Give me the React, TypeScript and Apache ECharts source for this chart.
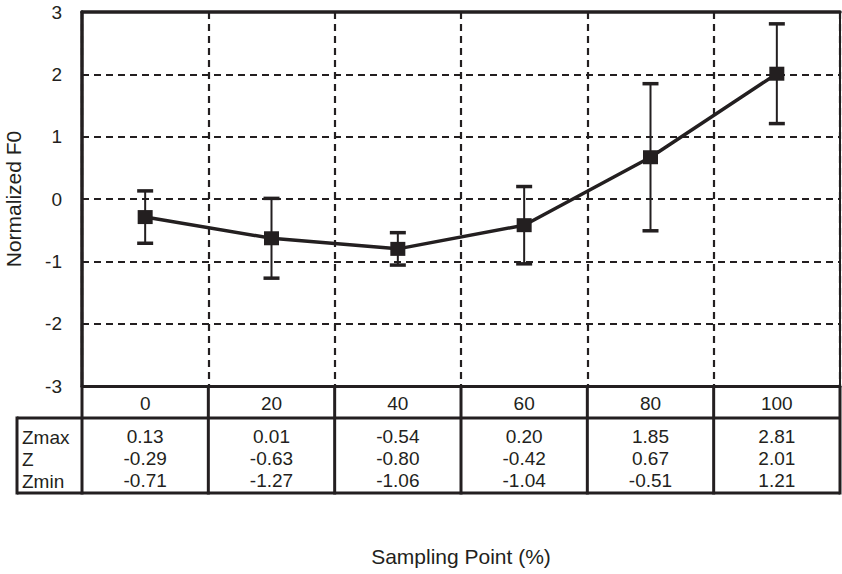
import React, { useEffect, useRef } from "react";
import * as echarts from "echarts";

const categories = ["0", "20", "40", "60", "80", "100"];
const zMax = [0.13, 0.01, -0.54, 0.2, 1.85, 2.81];
const zMean = [-0.29, -0.63, -0.8, -0.42, 0.67, 2.01];
const zMin = [-0.71, -1.27, -1.06, -1.04, -0.51, 1.21];
const rowLabels = ["Zmax", "Z", "Zmin"];
const rowValues = [zMax, zMean, zMin];
const yMin = -3;
const yMax = 3;
const yInterval = 1;

const INK = "#231f20";
const FONT = "Liberation Sans, Arial, Helvetica, sans-serif";

const W = 842;
const H = 574;
const GRID_LEFT = 82;
const GRID_RIGHT = 2;
const GRID_TOP = 12;
const GRID_BOTTOM = 188;
const HEADER_H = 32;
const ROW_H = 22;
const TABLE_BOTTOM = 493;
const LABEL_COL_LEFT = 17;
const TICK_FS = 19;
const TITLE_FS = 21;

function tableGraphics() {
  const L = GRID_LEFT;
  const R = W - GRID_RIGHT;
  const B = H - GRID_BOTTOM;
  const hb = B + HEADER_H;
  const colW = (R - L) / categories.length;
  const els: any[] = [];
  const line = (x1: number, y1: number, x2: number, y2: number, w = 3) =>
    els.push({
      type: "line",
      shape: { x1, y1, x2, y2 },
      style: { stroke: INK, lineWidth: w },
      z: 100,
    });
  line(LABEL_COL_LEFT, hb, R, hb);
  line(LABEL_COL_LEFT, TABLE_BOTTOM, R, TABLE_BOTTOM);
  line(LABEL_COL_LEFT, hb - 1.5, LABEL_COL_LEFT, TABLE_BOTTOM + 1.5);
  for (let i = 0; i <= categories.length; i++) {
    const x = L + i * colW;
    line(x, B, x, TABLE_BOTTOM + 1.5);
  }
  rowLabels.forEach((t, k) => {
    els.push({
      type: "text",
      x: LABEL_COL_LEFT + 5,
      y: hb + 19 + k * ROW_H,
      style: {
        text: t,
        font: `${TICK_FS}px ${FONT}`,
        fill: INK,
        align: "left",
        verticalAlign: "middle",
      },
      z: 100,
    });
  });
  return els;
}

export default function App() {
  const ref = useRef<HTMLDivElement>(null);
  useEffect(() => {
    if (!ref.current) return;
    const chart = echarts.init(ref.current, undefined, { renderer: "svg" });
    const dashed = { color: INK, width: 2.2, type: [7, 5] as any };
    const valueAxes = rowValues.map((vals, k) => ({
      type: "category",
      data: vals.map((v) => v.toFixed(2)),
      position: "bottom",
      offset: HEADER_H + k * ROW_H,
      axisLine: { show: false, onZero: false },
      axisTick: { show: false },
      splitLine: { show: false },
      axisLabel: {
        interval: 0,
        margin: 9,
        fontSize: TICK_FS,
        color: INK,
        fontFamily: FONT,
      },
    }));
    chart.setOption({
      animation: false,
      backgroundColor: "#ffffff",
      grid: {
        left: GRID_LEFT,
        right: GRID_RIGHT,
        top: GRID_TOP,
        bottom: GRID_BOTTOM,
        containLabel: false,
        outerBoundsMode: "none",
        show: true,
        borderColor: INK,
        borderWidth: 2,
      },
      xAxis: [
        {
          type: "category",
          data: categories,
          position: "bottom",
          boundaryGap: true,
          axisLine: {
            show: true,
            onZero: false,
            lineStyle: { color: INK, width: 3 },
          },
          axisTick: { show: false },
          axisLabel: {
            interval: 0,
            margin: 8,
            fontSize: TICK_FS,
            color: INK,
            fontFamily: FONT,
          },
          splitLine: { show: true, interval: 0, lineStyle: dashed },
          name: "Sampling Point (%)",
          nameLocation: "middle",
          nameGap: 160,
          nameTextStyle: { fontSize: TITLE_FS, color: INK, fontFamily: FONT },
        },
        ...valueAxes,
        {
          type: "category",
          data: categories,
          position: "top",
          axisLine: {
            show: true,
            onZero: false,
            lineStyle: { color: INK, width: 3.5 },
          },
          axisTick: { show: false },
          axisLabel: { show: false },
          splitLine: { show: false },
        },
      ],
      yAxis: {
        type: "value",
        min: yMin,
        max: yMax,
        interval: yInterval,
        axisLine: { show: true, onZero: false, lineStyle: { color: INK, width: 3.5 } },
        axisTick: { show: false },
        axisLabel: { fontSize: TICK_FS, color: INK, margin: 20, fontFamily: FONT },
        splitLine: { show: true, lineStyle: dashed },
        name: "Normalized F0",
        nameLocation: "middle",
        nameRotate: 90,
        nameGap: 58,
        nameTextStyle: { fontSize: TITLE_FS, color: INK, fontFamily: FONT },
      },
      series: [
        {
          type: "custom",
          xAxisIndex: 0,
          yAxisIndex: 0,
          data: categories.map((_, i) => [i, zMin[i], zMax[i]]),
          encode: { x: 0, y: [1, 2] },
          z: 3,
          renderItem: (params: any, api: any) => {
            const lo = api.coord([api.value(0), api.value(1)]);
            const hi = api.coord([api.value(0), api.value(2)]);
            const half = 8;
            return {
              type: "group",
              children: [
                {
                  type: "line",
                  shape: { x1: lo[0], y1: lo[1], x2: hi[0], y2: hi[1] },
                  style: { stroke: INK, lineWidth: 2 },
                },
                {
                  type: "line",
                  shape: { x1: lo[0] - half, y1: lo[1], x2: lo[0] + half, y2: lo[1] },
                  style: { stroke: INK, lineWidth: 3.5 },
                },
                {
                  type: "line",
                  shape: { x1: hi[0] - half, y1: hi[1], x2: hi[0] + half, y2: hi[1] },
                  style: { stroke: INK, lineWidth: 3.5 },
                },
              ],
            };
          },
        },
        {
          type: "line",
          xAxisIndex: 0,
          yAxisIndex: 0,
          data: zMean,
          symbol: "rect",
          symbolSize: [15, 14],
          z: 4,
          itemStyle: { color: INK },
          lineStyle: { color: INK, width: 3.5 },
        },
      ],
      graphic: tableGraphics(),
    });
    return () => chart.dispose();
  }, []);
  return (
    <div
      ref={ref}
      style={{ position: "fixed", left: 0, top: 0, width: W, height: H }}
    />
  );
}
